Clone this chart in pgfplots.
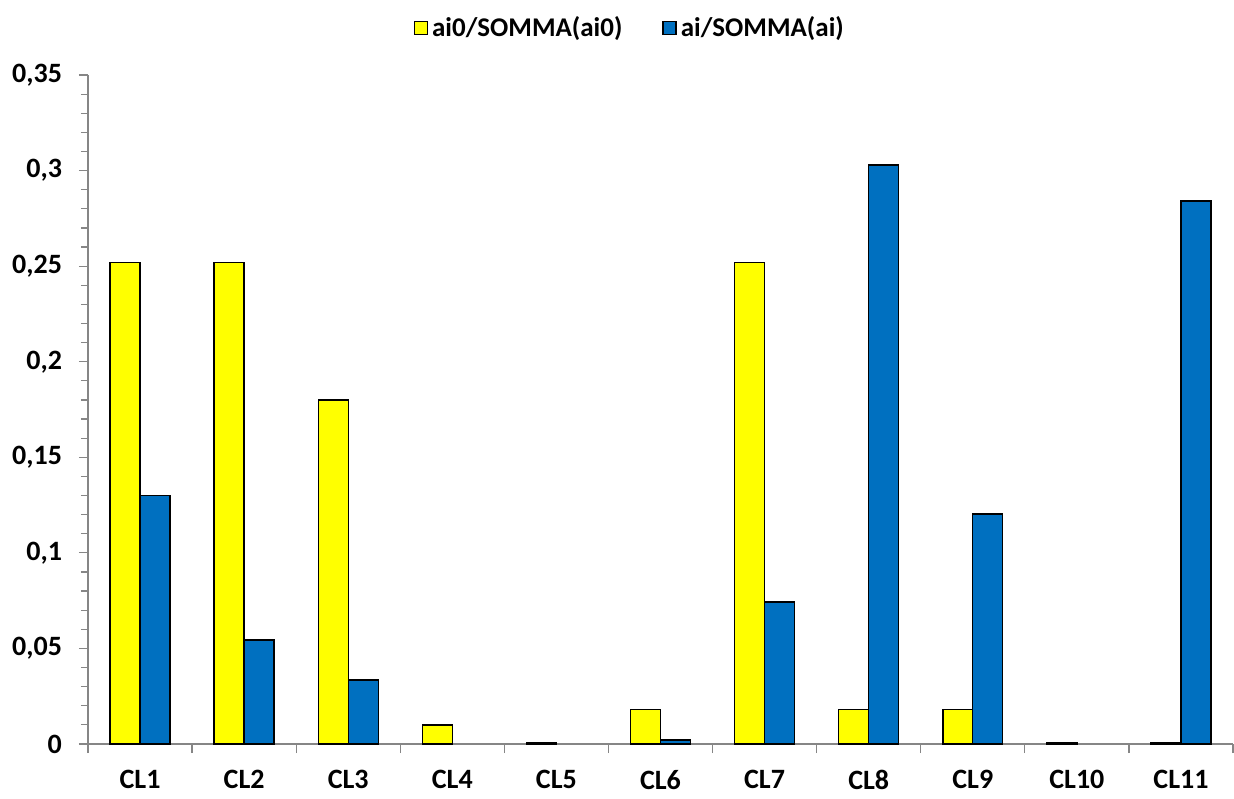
\documentclass[border=0pt]{standalone}
\usepackage{pgfplots}
\pgfplotsset{compat=1.18}
\usepackage{fontspec}
\setmainfont{Carlito}
\definecolor{myyellow}{RGB}{255,255,0}
\definecolor{myblue}{RGB}{0,112,192}
\definecolor{axgray}{RGB}{134,134,134}
\begin{document}
\begin{tikzpicture}
\useasboundingbox (0,0) rectangle (617pt,399pt);
\begin{axis}[
  at={(44pt,27pt)}, anchor=south west,
  scale only axis, width=572.5pt, height=334.5pt,
  xmin=-0.5, xmax=10.5, ymin=0, ymax=0.35,
  axis x line=bottom, axis y line=left,
  axis line style={-, draw=axgray, line width=0.6pt},
  xtick={-0.5,0.5,1.5,2.5,3.5,4.5,5.5,6.5,7.5,8.5,9.5,10.5},
  x tick label as interval,
  xticklabels={CL1,CL2,CL3,CL4,CL5,CL6,CL7,CL8,CL9,CL10,CL11},
  ytick={0,0.05,0.1,0.15,0.2,0.25,0.3,0.35},
  minor y tick num=4,
  tick align=outside,
  major tick length=4.5pt, minor tick length=3.5pt,
  tick style={draw=axgray, line width=0.6pt},
  ticklabel style={font=\fontsize{14}{16}\selectfont\bfseries},
  xticklabel style={yshift=-5pt},
  yticklabel style={xshift=-5pt},
  /pgf/number format/.cd, use comma, fixed, precision=2, assume math mode=true, /pgfplots/.cd,
  legend columns=2,
  legend style={draw=none, at={(0.474,1.07)}, anchor=center,
    font=\fontsize{13.5}{16}\selectfont\bfseries,
    /tikz/every even column/.append style={column sep=18pt}},
]
\addplot[ybar, bar width=0.288, bar shift=-0.144, fill=myyellow, draw=black, line width=0.7pt,
  legend image code/.code={\draw[fill=myyellow,draw=black,line width=0.7pt] (0pt,-3.3pt) rectangle (6.5pt,3.2pt);}]
  coordinates {(0,0.252)(1,0.252)(2,0.18)(3,0.01)(4,0.0005)(5,0.018)(6,0.252)(7,0.018)(8,0.018)(9,0.0005)(10,0.0005)};
\addlegendentry{ai0/SOMMA(ai0)}
\addplot[ybar, bar width=0.288, bar shift=0.144, fill=myblue, draw=black, line width=0.7pt,
  legend image code/.code={\draw[fill=myblue,draw=black,line width=0.7pt] (0pt,-3.3pt) rectangle (6.5pt,3.2pt);}]
  coordinates {(0,0.130)(1,0.0544)(2,0.0335)(5,0.002)(6,0.0743)(7,0.303)(8,0.1204)(10,0.284)};
\addlegendentry{ai/SOMMA(ai)}
\end{axis}
\end{tikzpicture}
\end{document}
